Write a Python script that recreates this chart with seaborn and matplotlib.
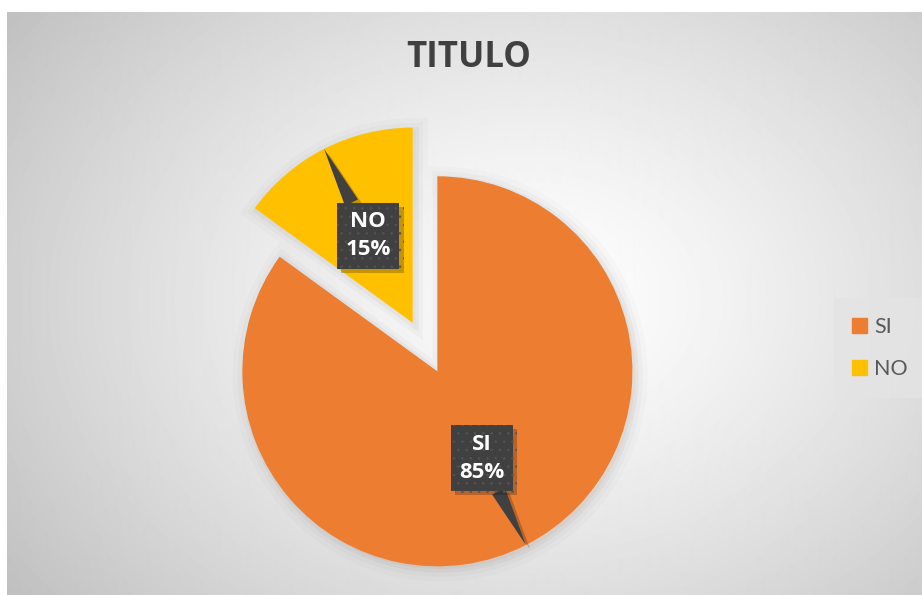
import numpy as np
import matplotlib
matplotlib.use("Agg")
import matplotlib.pyplot as plt
import matplotlib.patheffects as pe
from matplotlib.patches import Patch
import seaborn as sns

# data
categorias = ["SI", "NO"]
valores = [85, 15]
colores = ["#ED7D31", "#FFC000"]
titulo = "TITULO"

sns.set_theme(style="white")
plt.rcParams["font.family"] = ["Open Sans", "DejaVu Sans"]
plt.rcParams["hatch.linewidth"] = 0.6

W, H = 922, 595
fig = plt.figure(figsize=(W / 100, H / 100), dpi=100)
fig.patch.set_facecolor("white")
ax = fig.add_axes([0, 0, 1, 1])

# radial background of the chart area
x0, y0 = 7, 12
gx, gy = np.meshgrid(np.arange(x0, W), np.arange(y0, H))
r = np.sqrt(((gx - 530) / 560.0) ** 2 + ((gy - 300) / 420.0) ** 2)
fondo = np.clip(255 - 52 * np.clip(r, 0, 1.2) ** 1.3, 0, 255) / 255.0
ax.imshow(fondo, cmap="gray", vmin=0, vmax=1, extent=(x0, W, 0, H - y0),
          origin="upper", zorder=0, interpolation="bilinear")

# pie (explode is in data units)
cx, cy, R = 425, H - 347, 195
expl = 0.14
sombra = [pe.Stroke(linewidth=18, foreground="k", alpha=0.015, offset=(2, -2)),
          pe.Stroke(linewidth=11, foreground="k", alpha=0.025, offset=(2, -2)),
          pe.Stroke(linewidth=5, foreground="k", alpha=0.04, offset=(2, -2)),
          pe.Normal()]
wedges, _ = ax.pie(valores, colors=colores, explode=[expl * R, expl * R], startangle=90,
                   counterclock=False, center=(cx, cy), radius=R,
                   wedgeprops=dict(linewidth=0))
for w in wedges:
    w.set_path_effects(sombra)
    w.set_zorder(2)

# callout labels
total = sum(valores)
ang0 = 90.0
for cat, val in zip(categorias, valores):
    span = 360.0 * val / total
    mid = np.deg2rad(ang0 - span / 2)
    ang0 -= span
    ux, uy = np.cos(mid), np.sin(mid)
    tx, ty = cx + 0.64 * R * ux, cy + 0.64 * R * uy
    px, py = cx + (1 + expl) * R * ux, cy + (1 + expl) * R * uy
    t = ax.annotate(f"{cat}\n{round(100 * val / total)}%", xy=(px, py), xytext=(tx, ty),
                    ha="center", va="center", color="white", fontsize=16,
                    fontweight="bold", linespacing=1.45, zorder=5,
                    bbox=dict(boxstyle="square,pad=0.38", fc="#404040", ec="#535353",
                              lw=0, hatch=".."),
                    arrowprops=dict(arrowstyle="wedge,tail_width=0.65", fc="#404040",
                                    ec="none", shrinkA=0, shrinkB=0))
    sh = [pe.SimplePatchShadow(offset=(3, -3), alpha=0.25), pe.Normal()]
    t.get_bbox_patch().set_path_effects(sh)
    t.arrow_patch.set_path_effects(sh)

ax.set_xlim(0, W)
ax.set_ylim(0, H)
ax.set_aspect("auto")
ax.axis("off")

fig.text(469 / W, 1 - 58 / H, titulo, ha="center", va="center", fontsize=25,
         fontweight="bold", color="#404040")

handles = [Patch(color=c, label=l) for c, l in zip(colores, categorias)]
leg = ax.legend(handles=handles, loc="center", bbox_to_anchor=(880 / W, 1 - 348 / H),
                bbox_transform=fig.transFigure, frameon=True,
                prop={"family": ["Lato"], "size": 15.5},
                handlelength=0.68, handleheight=0.68, handletextpad=0.35,
                labelspacing=1.05, borderpad=0.85, fancybox=False)
leg.get_frame().set_facecolor("#E4E4E4")
leg.get_frame().set_edgecolor("none")
for txt in leg.get_texts():
    txt.set_color("#595959")

fig.savefig("out.png", dpi=100, facecolor="white")
